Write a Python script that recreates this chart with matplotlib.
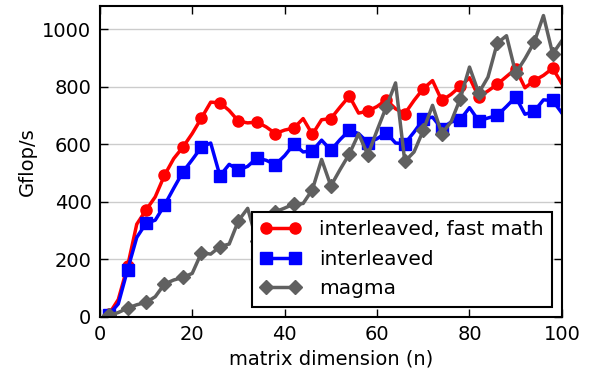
import matplotlib
matplotlib.use("Agg")
import matplotlib.pyplot as plt
import numpy as np

# matrix sizes n = 2, 4, ..., 100
n = np.arange(2, 101, 2)

fast_math = [10, 60, 175, 322, 371, 417, 492, 550, 590, 637,
             691, 746, 744, 717, 680, 674, 677, 660, 637, 649,
             656, 689, 634, 685, 689, 729, 767, 708, 715, 731,
             754, 723, 706, 752, 793, 821, 752, 773, 801, 831,
             764, 785, 808, 835, 862, 796, 821, 839, 864, 810]

interleaved = [8, 45, 163, 276, 325, 336, 388, 447, 504, 546,
               590, 604, 490, 530, 510, 523, 552, 544, 529, 560,
               600, 573, 577, 614, 579, 616, 648, 637, 605, 619,
               640, 604, 602, 642, 686, 694, 654, 677, 685, 727,
               681, 691, 700, 731, 764, 704, 714, 754, 752, 708]

magma = [5, 15, 30, 42, 50, 70, 114, 128, 137, 151,
         223, 218, 244, 253, 334, 377, 262, 320, 365, 378,
         392, 394, 442, 547, 455, 512, 566, 636, 563, 648,
         730, 813, 540, 573, 648, 735, 637, 677, 758, 868,
         778, 833, 951, 977, 847, 897, 954, 1047, 914, 960]

labels = ["interleaved, fast math", "interleaved", "magma"]

plt.rcParams["font.family"] = "DejaVu Sans"
plt.rcParams["font.size"] = 14

fig = plt.figure(figsize=(5.94, 3.79), dpi=100)
ax = fig.add_axes([0.168, 0.164, 0.778, 0.820])

ax.plot(n, fast_math, "-o", color="red", lw=2.5, ms=8, mec="red",
        markevery=2, label=labels[0])
ax.plot(n, interleaved, "-s", color="blue", lw=2.5, ms=8, mec="blue",
        markevery=2, label=labels[1])
ax.plot(n, magma, "-D", color="#606060", lw=2.5, ms=7, mec="#606060",
        markevery=2, label=labels[2])

ax.set_xlim(0, 100)
ax.set_ylim(0, 1080)
ax.set_xticks(range(0, 101, 20))
ax.set_yticks(range(0, 1001, 200))
ax.yaxis.grid(True, color="#cccccc", lw=1)
ax.set_axisbelow(True)
ax.tick_params(direction="in", top=True, right=True, length=6, width=1,
               labelsize=14, pad=6)
for s in ax.spines.values():
    s.set_linewidth(1.5)

ax.set_xlabel("matrix dimension (n)", fontsize=14)
ax.set_ylabel("Gflop/s", fontsize=14)

leg = ax.legend(loc="lower right", numpoints=2, fontsize=14.5, fancybox=False,
                framealpha=1, edgecolor="black", borderaxespad=0.5,
                borderpad=0.42, handlelength=2.0, handletextpad=0.9,
                labelspacing=0.52)
leg.get_frame().set_linewidth(1.5)

fig.savefig("out.png", dpi=100)
